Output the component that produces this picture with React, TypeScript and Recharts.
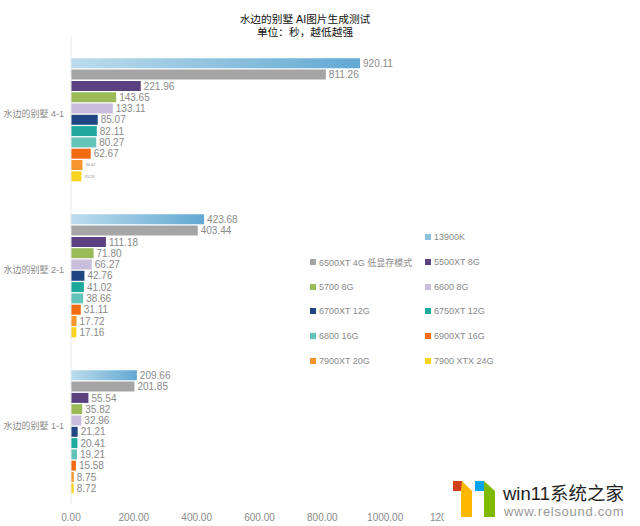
import React from 'react';
import { BarChart, Bar, XAxis, YAxis, LabelList } from 'recharts';

const categories = ['水边的别墅 4-1', '水边的别墅 2-1', '水边的别墅 1-1'];
const seriesNames = [
  '13900K', '6500XT 4G 低显存模式', '5500XT 8G', '5700 8G', '6600 8G', '6700XT 12G',
  '6750XT 12G', '6800 16G', '6900XT 16G', '7900XT 20G', '7900 XTX 24G',
];
const seriesColors = [
  'url(#cpuFill)', '#a5a5a5', '#5b4180', '#9bbb59', '#c9bfdc', '#1f4680',
  '#1fa89c', '#62c4b8', '#f26a12', '#f7962d', '#f9d423',
];
const legendColors = ['#8cc0dc', ...seriesColors.slice(1)];
const seriesValues = [
  [920.11, 423.68, 209.66],
  [811.26, 403.44, 201.85],
  [221.96, 111.18, 55.54],
  [143.65, 71.8, 35.82],
  [133.11, 66.27, 32.96],
  [85.07, 42.76, 21.21],
  [82.11, 41.02, 20.41],
  [80.27, 38.66, 19.21],
  [62.67, 31.11, 15.58],
  [36.42, 17.72, 8.75],
  [33.26, 17.16, 8.72],
];
const xTicks = [0, 200, 400, 600, 800, 1000, 1200];
const tinyLabels = [36.42, 33.26];

const chartData = categories.map((name, i) => {
  const row: Record<string, string | number> = { name };
  seriesNames.forEach((s, j) => {
    row[s] = seriesValues[j][i];
  });
  return row;
});

const fontFamily = '"Liberation Sans", "Noto Sans CJK SC", sans-serif';

const ValueLabel = (props: any) => {
  const { x, y, width, height, value } = props;
  const tiny = tinyLabels.includes(value);
  return (
    <text
      x={x + width + 3}
      y={y + height / 2}
      dy="0.36em"
      fontSize={tiny ? 4 : 10}
      fill="#8a8a8a"
    >
      {value.toFixed(2)}
    </text>
  );
};

// plain text tick, the axis' own Text would wrap these labels
const CategoryTick = (props: any) => (
  <text x={props.x + 1} y={props.y} dy="0.36em" textAnchor="end" fontSize={9} fill="#8a8a8a">
    {props.payload.value}
  </text>
);

const LegendGrid = () => (
  <div
    style={{
      position: 'absolute',
      left: 310,
      top: 225,
      display: 'grid',
      gridTemplateColumns: '115px 115px',
      gridAutoRows: '24.7px',
      fontSize: 9,
      color: '#8a8a8a',
    }}
  >
    <div />
    {seriesNames.map((s, i) => (
      <div key={s} style={{ display: 'flex', alignItems: 'center' }}>
        <span style={{ width: 6, height: 6, marginRight: 3, background: legendColors[i] }} />
        {s}
      </div>
    ))}
  </div>
);

export default function App() {
  return (
    <div style={{ position: 'absolute', left: 0, top: 0, width: 640, height: 526, background: '#fff', fontFamily }}>
      <div style={{ position: 'absolute', left: 205, width: 200, top: 13, textAlign: 'center', fontSize: 10.7, lineHeight: '12.5px', color: '#111' }}>
        水边的别墅 AI图片生成测试
        <br />
        单位：秒，越低越强
      </div>
      <BarChart
        width={640}
        height={526}
        data={chartData}
        layout="vertical"
        barSize={10}
        barGap={1.3}
        margin={{ top: 36, right: 192, bottom: 0, left: 0 }}
      >
        <defs>
          <linearGradient id="cpuFill" x1="0" y1="0" x2="1" y2="0">
            <stop offset="0%" stopColor="#bcdcec" />
            <stop offset="100%" stopColor="#62a9d3" />
          </linearGradient>
        </defs>
        <XAxis
          type="number"
          domain={[0, 1200]}
          ticks={xTicks}
          interval={0}
          tickFormatter={(v: number) => v.toFixed(2)}
          axisLine={false}
          tickLine={false}
          tick={{ fill: '#8a8a8a', fontSize: 10 }}
          tickMargin={4}
          height={22}
        />
        <YAxis
          type="category"
          dataKey="name"
          width={71}
          axisLine={{ stroke: '#e8e8e8' }}
          tickLine={false}
          tick={<CategoryTick />}
        />
        {/* empty slot above each group, the source chart's bars sit low in the band */}
        <Bar dataKey="spacer" fill="none" isAnimationActive={false} legendType="none" />
        {seriesNames.map((s, i) => (
          <Bar key={s} dataKey={s} fill={seriesColors[i]} isAnimationActive={false}>
            <LabelList dataKey={s} content={<ValueLabel />} />
          </Bar>
        ))}
      </BarChart>
      <LegendGrid />
      {/* site watermark sits over the last axis label */}
      <svg width={640} height={526} style={{ position: 'absolute', left: 0, top: 0 }}>
        <rect x={444} y={478} width={196} height={48} fill="#fff" />
        <rect x={453} y={481} width={9} height={10} fill="#d0401b" />
        <polygon points="462,481 472,491 472,517 461,517 461,491" fill="#fdb900" />
        <rect x={475} y={481} width={9} height={10} fill="#00a4ef" />
        <polygon points="484,481 495,491 495,517 484,517" fill="#7fba00" />
      </svg>
      <div style={{ position: 'absolute', left: 503, top: 484, fontSize: 18.5, lineHeight: '20px', color: '#222' }}>win11系统之家</div>
      <div style={{ position: 'absolute', left: 504, top: 505, fontSize: 13, lineHeight: '14px', color: '#999', letterSpacing: 0.7 }}>www.relsound.com</div>
    </div>
  );
}
